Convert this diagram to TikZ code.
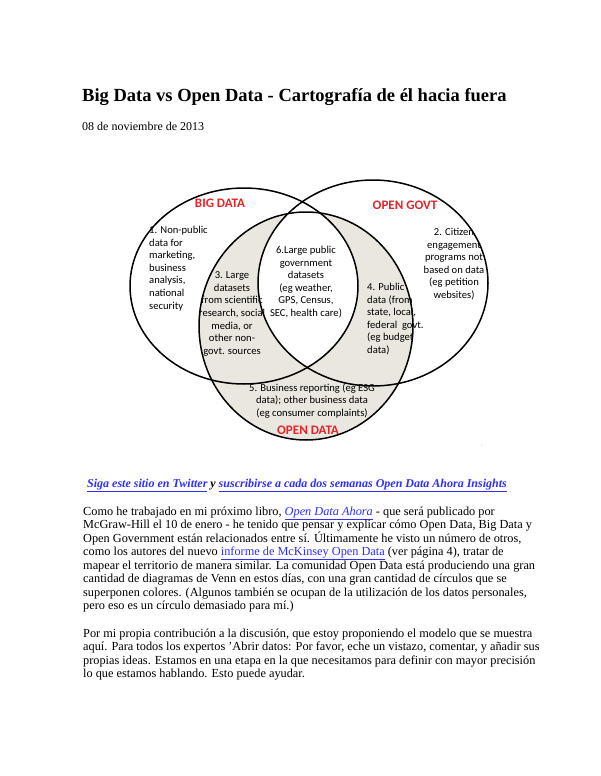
\documentclass[tikz,border=0pt]{standalone}
\usepackage{fontspec}
\setmainfont{Liberation Serif}
\newfontfamily\venncal{Carlito}
\definecolor{lnk}{HTML}{3030F0}
\definecolor{vred}{HTML}{E0262B}
\definecolor{vgray}{HTML}{E9E7E0}
\begin{document}
\begin{tikzpicture}[x=1pt,y=-1pt,
 body/.style={anchor=base west,inner sep=0pt,font=\fontsize{12.3}{14}\selectfont},
 vt/.style={align=center,inner sep=0pt,font=\venncal\fontsize{10.6}{12.6}\selectfont},
 vl/.style={inner sep=0pt,text=vred,font=\venncal\bfseries\fontsize{13}{14}\selectfont},
 circ/.style={draw=black,line width=1.5pt}]
\useasboundingbox[fill=white] (0,0) rectangle (600,776);
\node[anchor=base west,inner sep=0pt,font=\bfseries\fontsize{18.5}{20}\selectfont] (title) at (82,101) {Big Data vs Open Data - Cartografía de él hacia fuera};
\node[anchor=base west,inner sep=0pt,font=\fontsize{12}{14}\selectfont] (date) at (82,130) {08 de noviembre de 2013};
% Venn
\coordinate (bc) at (244,286);
\coordinate (gc) at (373,283);
\coordinate (oc) at (306,326);
\fill[vgray] (oc) ellipse [x radius=107, y radius=114];
\begin{scope}
\clip (bc) ellipse [x radius=114, y radius=98];
\fill[white] (gc) ellipse [x radius=115, y radius=103];
\end{scope}
\draw[circ] (bc) ellipse [x radius=114, y radius=98];
\draw[circ] (gc) ellipse [x radius=115, y radius=103];
\draw[circ] (oc) ellipse [x radius=107, y radius=114];
\node[vl] (lbig) at (220,203) {BIG DATA};
\node[vl] (lgov) at (405,205) {OPEN GOVT};
\node[vl] (lopen) at (308,430) {OPEN DATA};
\node[vt,align=left,anchor=north west] (t1) at (149,226) {1. Non-public\\data for\\marketing,\\business\\analysis,\\national\\security};
\node[vt] (t2) at (454,264) {2. Citizen\\engagement\\programs not\\based on data\\(eg petition\\websites)};
\node[vt] (t3) at (232,314) {3. Large\\datasets\\from scientific\\research, social\\media, or\\other non-\\govt. sources};
\node[vt] (t6) at (306,282) {6.Large public\\government\\datasets\\(eg weather,\\GPS, Census,\\SEC, health care)};
\node[vt,align=left,anchor=north west] (t4) at (367,283) {4. Public\\data (from\\state, local,\\federal\ \ govt.\\(eg budget\\data)};
\node[vt] (t5) at (312,401) {5. Business reporting (eg ESG\\data); other business data\\(eg consumer complaints)};
\node[inner sep=0pt,font=\tiny,text=gray] (dot) at (482,447) {'};
% link line
\node[anchor=base,inner sep=0pt,font=\bfseries\itshape\fontsize{12}{14}\selectfont] (links) at (297,487) {\textcolor{lnk}{\underline{Siga este sitio en Twitter}} y \textcolor{lnk}{\underline{suscribirse a cada dos semanas Open Data Ahora Insights}}};
\node[body] (p1) at (83,515) {Como he trabajado en mi próximo libro, \textcolor{lnk}{\underline{\itshape Open Data Ahora}} - que será publicado por};
\node[body] (p2) at (83,528.5) {McGraw-Hill el 10 de enero - he tenido que pensar y explicar cómo Open Data, Big Data y};
\node[body] (p3) at (83,542) {Open Government están relacionados entre sí. Últimamente he visto un número de otros,};
\node[body] (p4) at (83,555.5) {como los autores del nuevo \textcolor{lnk}{\underline{informe de McKinsey Open Data}} (ver página 4), tratar de};
\node[body] (p5) at (83,569) {mapear el territorio de manera similar. La comunidad Open Data está produciendo una gran};
\node[body] (p6) at (83,582.5) {cantidad de diagramas de Venn en estos días, con una gran cantidad de círculos que se};
\node[body] (p7) at (83,596) {superponen colores. (Algunos también se ocupan de la utilización de los datos personales,};
\node[body] (p8) at (83,609.5) {pero eso es un círculo demasiado para mí.)};
\node[body] (q1) at (83,637) {Por mi propia contribución a la discusión, que estoy proponiendo el modelo que se muestra};
\node[body] (q2) at (83,650.5) {aquí. Para todos los expertos 'Abrir datos: Por favor, eche un vistazo, comentar, y añadir sus};
\node[body] (q3) at (83,664) {propias ideas. Estamos en una etapa en la que necesitamos para definir con mayor precisión};
\node[body] (q4) at (83,677.5) {lo que estamos hablando. Esto puede ayudar.};
\end{tikzpicture}
\end{document}
